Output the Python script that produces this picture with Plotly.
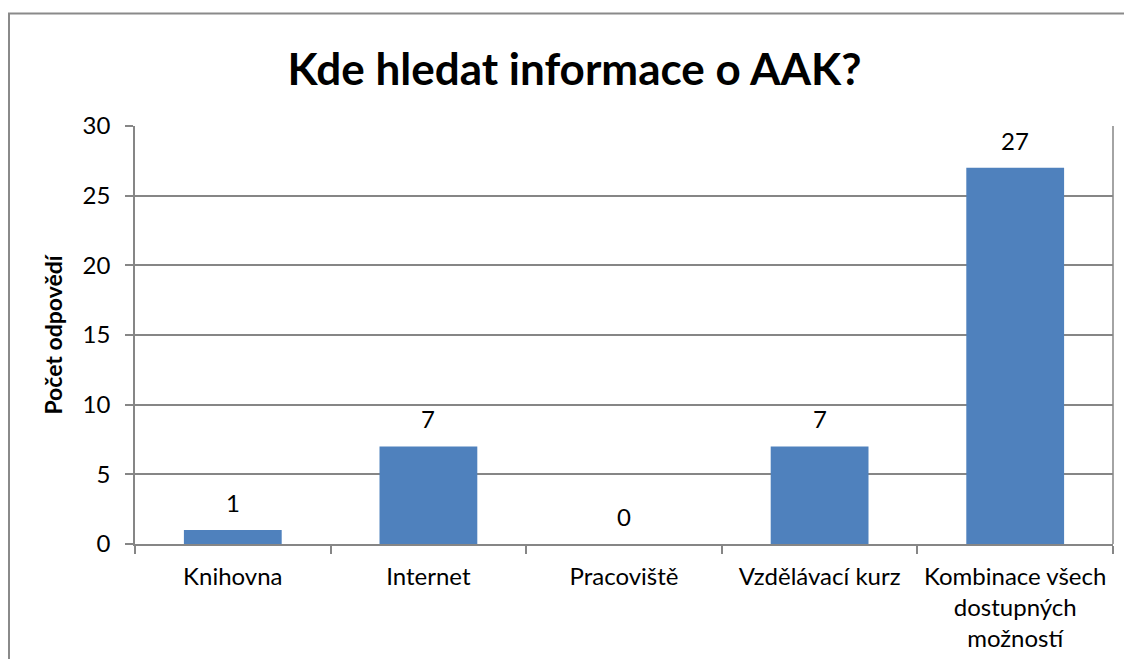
import plotly.graph_objects as go

categories = ["Knihovna", "Internet", "Pracoviště", "Vzdělávací kurz",
              "Kombinace všech<br>dostupných<br>možností"]
values = [1, 7, 0, 7, 27]
y_ticks = [0, 5, 10, 15, 20, 25, 30]

# page body has an 8px margin, so the figure starts at (8, 8)
OFF = 8
W, H = 1132 - 2 * OFF, 667 - 2 * OFF
L, R, T, B = 135 - OFF, 1113 - OFF, 126 - OFF, 544 - OFF
FONT = "Lato"
GRAY = "#868686"

fig = go.Figure(go.Bar(
    x=categories, y=values,
    marker=dict(color="#4F81BD", line=dict(width=0)),
    cliponaxis=False,
))

# value labels above the bars
for c, v in zip(categories, values):
    fig.add_annotation(x=c, y=v, text=str(v), showarrow=False,
                       yanchor="bottom", yshift=11,
                       font=dict(family=FONT, size=24, color="black"))

# outer chart border: only top and left edges are visible in the crop
def px_x(p):
    return (p - OFF - L) / (R - L)

def px_y(p):
    return (B - (p - OFF)) / (B - T)

border = dict(color="#8a8a8a", width=2)
fig.add_shape(type="line", xref="paper", yref="paper",
              x0=px_x(8), x1=px_x(1200), y0=px_y(13.5), y1=px_y(13.5), line=border)
fig.add_shape(type="line", xref="paper", yref="paper",
              x0=px_x(9), x1=px_x(9), y0=px_y(13), y1=px_y(700), line=border)

fig.update_layout(
    width=W, height=H,
    margin=dict(l=L, r=W - R, t=T, b=H - B),
    paper_bgcolor="white", plot_bgcolor="white",
    bargap=0.5,
    showlegend=False,
    font=dict(family=FONT, color="black"),
    title=dict(text="<b>Kde hledat informace o AAK?</b>",
               x=(574.5 - OFF) / W, xref="container", xanchor="center",
               y=1 - (70 - OFF) / H, yref="container", yanchor="middle",
               font=dict(family=FONT, size=44, color="black")),
    xaxis=dict(showline=True, linecolor=GRAY, linewidth=1.5, automargin=False,
               ticks="outside", ticklen=8, tickcolor=GRAY, tickwidth=1.5,
               tickson="boundaries", showgrid=False, ticklabelstandoff=10,
               tickfont=dict(family=FONT, size=24, color="black")),
    yaxis=dict(range=[0, 30], tickvals=y_ticks, showline=True, automargin=False,
               linecolor=GRAY, linewidth=1.5,
               ticks="outside", ticklen=8, tickcolor=GRAY, tickwidth=1.5,
               ticklabelstandoff=10,
               showgrid=True, gridcolor=GRAY, gridwidth=1.5, zeroline=False,
               tickfont=dict(family=FONT, size=24, color="black"),
               title=dict(text="<b>Počet odpovědí</b>", standoff=14,
                          font=dict(family=FONT, size=23, color="black"))),
)

# right-hand grid edge like the original plot area
fig.add_shape(type="line", xref="paper", yref="paper", x0=1, x1=1, y0=0, y1=1,
              line=dict(color=GRAY, width=1.5))

fig.write_html("out.html")
